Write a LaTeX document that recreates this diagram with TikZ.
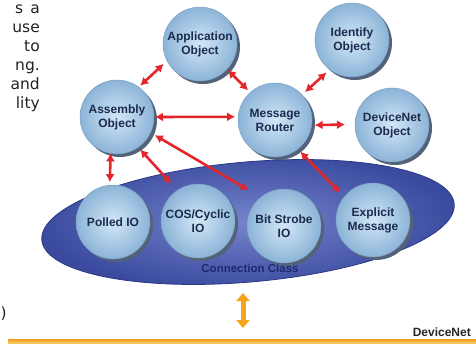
\documentclass[tikz,border=0pt]{standalone}
\usepackage{fontspec}
\setmainfont{Liberation Sans}
\newfontfamily\vfont{DejaVu Sans}
\usetikzlibrary{arrows.meta,shapes.geometric,shadows}
\definecolor{objin}{HTML}{D2E7F7}
\definecolor{objout}{HTML}{8CB4D7}
\definecolor{objline}{HTML}{7A9CC0}
\definecolor{objtext}{HTML}{1C2B4E}
\definecolor{shadowcol}{HTML}{536279}
\definecolor{arrred}{HTML}{E3262B}
\definecolor{ellin}{HTML}{7584CC}
\definecolor{ellout}{HTML}{3A4A9E}
\definecolor{elldraw}{HTML}{2B3784}
\definecolor{cctext}{HTML}{1E2A6E}
\definecolor{orangeA}{HTML}{F2A020}
\definecolor{orangeB}{HTML}{F8CC66}
\definecolor{orangeC}{HTML}{F6A41C}
\definecolor{lefttext}{HTML}{222222}
\begin{document}
\begin{tikzpicture}[x=1pt,y=-1pt,
  obj/.style={circle, minimum size=74pt, inner sep=0pt, outer sep=0pt,
    shade, inner color=objin, outer color=objout, draw=objline, line width=0.4pt,
    font=\fontsize{12}{14}\selectfont\bfseries, text=objtext, align=center,
    drop shadow={shadow xshift=3pt, shadow yshift=-3pt, fill=shadowcol, opacity=1}},
  rarrow/.style={draw=arrred, line width=2.6pt,
    {Latex[length=8pt,width=9pt]}-{Latex[length=8pt,width=9pt]}},
  oarrow/.style={draw=orangeC, line width=5pt,
    {Triangle[length=8pt,width=13pt]}-{Triangle[length=8pt,width=13pt]}},
  sidetext/.style={anchor=base east, inner sep=0pt, font=\vfont\fontsize{15.5}{18}\selectfont, text=lefttext},
  boldlabel/.style={font=\fontsize{12}{14}\selectfont\bfseries, inner sep=0pt}
]
\useasboundingbox (0,0) rectangle (476,343);
\clip (0,0) rectangle (476,343);

% left cropped text
\node[sidetext] (t1) at (40,13) {s\hspace{7pt}a};
\node[sidetext] (t2) at (40,32) {use};
\node[sidetext] (t3) at (40,51) {to};
\node[sidetext] (t4) at (40,70) {ng.};
\node[sidetext] (t5) at (40,89) {and};
\node[sidetext] (t6) at (40,108) {lity};
\node[sidetext, anchor=base west] (t7) at (0.5,318) {)};

% connection class ellipse
\node[ellipse, minimum width=414pt, minimum height=120pt, inner sep=0pt, rotate=5,
      shade, inner color=ellin, outer color=ellout, draw=elldraw, line width=0.8pt] (cc) at (248,222) {};
\node[boldlabel, text=cctext, font=\fontsize{11.5}{14}\selectfont\bfseries] (cclabel) at (250,268) {Connection Class};

% objects
\node[obj] (app) at (200,44) {Application\\Object};
\node[obj] (idf) at (352,40) {Identify\\Object};
\node[obj] (asm) at (117,117) {Assembly\\Object};
\node[obj] (mr)  at (275,120) {Message\\Router};
\node[obj] (dno) at (392,125) {DeviceNet\\Object};
\node[obj] (pio) at (113,222) {Polled IO};
\node[obj] (cos) at (198,221) {COS/Cyclic\\IO};
\node[obj] (bs)  at (284,226) {Bit Strobe\\IO};
\node[obj] (em)  at (373,220) {Explicit\\Message};

% red arrows
\draw[rarrow, shorten <=2pt, shorten >=4.5pt] (asm.54) -- (app.207);
\draw[rarrow, shorten <=1pt, shorten >=3pt] (app.-43) -- (mr.132);
\draw[rarrow, shorten <=4pt, shorten >=4.4pt] (mr.43) -- (idf.233);
\draw[rarrow, shorten <=1pt, shorten >=3pt] (asm.0) -- (mr.175);
\draw[rarrow, shorten <=3pt, shorten >=10pt] (mr.-8) -- (dno.179);
\draw[rarrow, shorten <=0pt, shorten >=3pt] (asm.260) -- (pio.95);
\draw[rarrow, shorten <=3pt, shorten >=9pt] (asm.-55) -- (cos.124);
\draw[rarrow, shorten <=5pt, shorten >=14pt] (asm.-25) -- (bs.129);
\draw[rarrow, shorten <=3.6pt, shorten >=5.6pt] (mr.-52) -- (em.141);

% bus
\node[anchor=north west, minimum width=468pt, minimum height=4pt, inner sep=0pt,
      shade, top color=orangeA, bottom color=orangeB] (bus) at (8,339) {};
\node[boldlabel, anchor=base east, text=black!85] (dn) at (471,336) {DeviceNet};
\coordinate (oa1) at (243,293);
\coordinate (oa2) at (243,328);
\draw[oarrow] (oa1) -- (oa2);
\end{tikzpicture}
\end{document}
